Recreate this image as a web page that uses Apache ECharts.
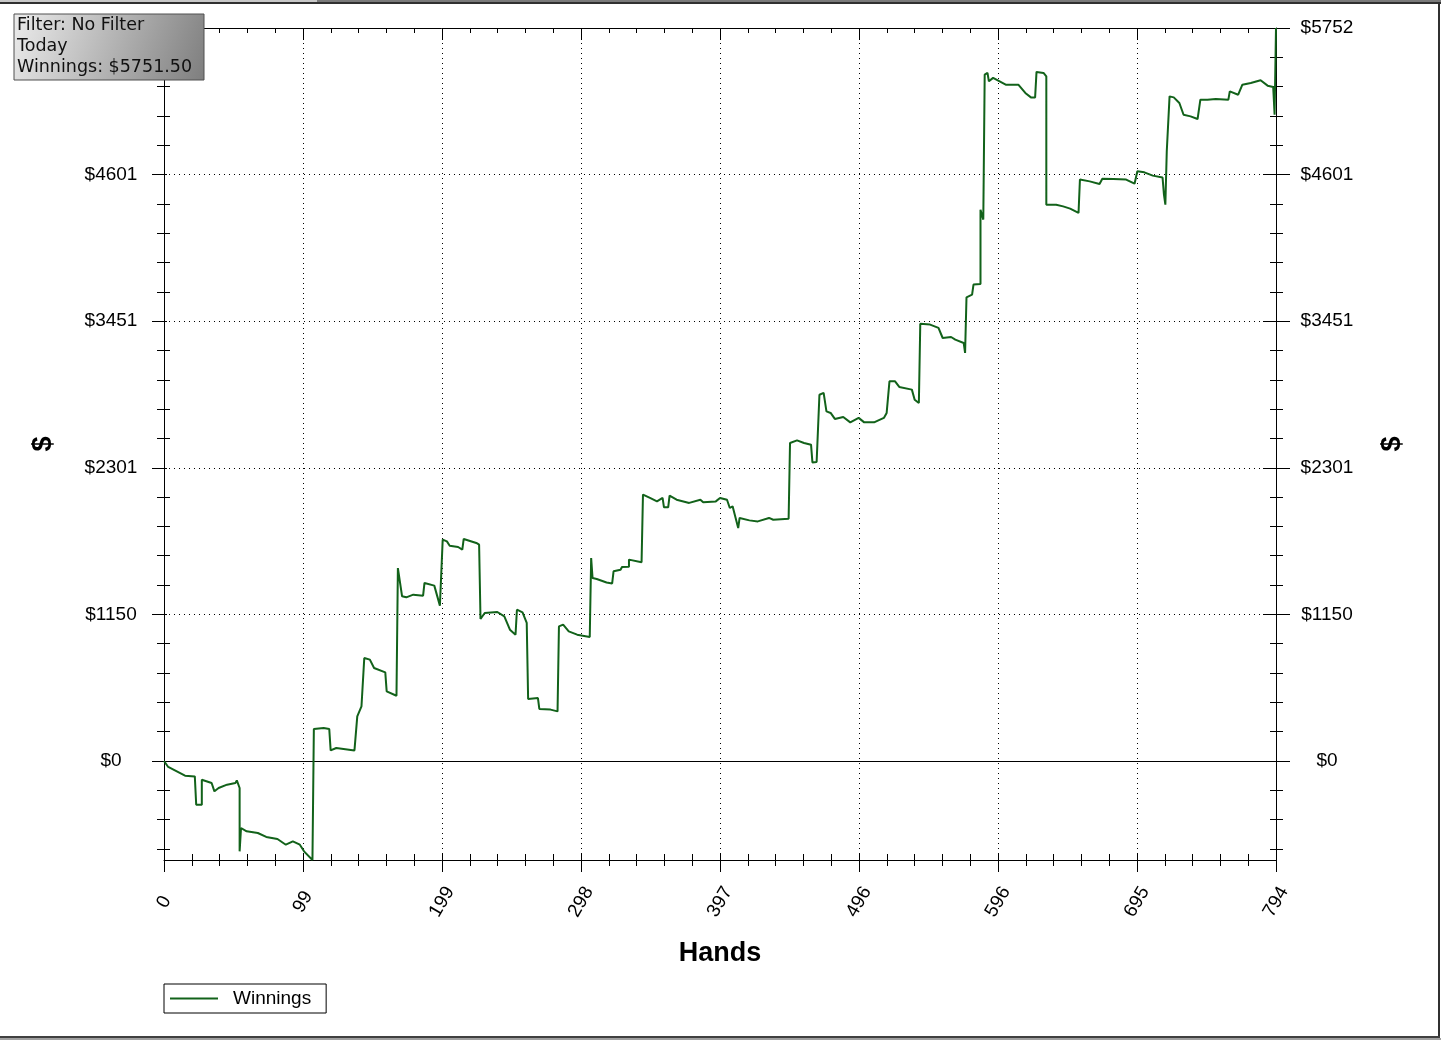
<!DOCTYPE html>
<html><head><meta charset="utf-8">
<script src="https://cdn.jsdelivr.net/npm/echarts@6/dist/echarts.min.js"></script>
<style>html,body{margin:0;padding:0;background:#fff}#c{width:1441px;height:1040px}</style>
</head><body><div id="c"></div>
<script>
const hands = [0,3,15,22,23,27,27,34,36,39,45,51,52,54,54,55,59,67,73,81,87,92,97,100,106,
107,114,118,119,123,136,138,141,143,147,150,158,159,166,167,170,173,178,185,186,193,197,199,202,204,210,213,214,223,225,
226,229,238,243,247,251,252,256,259,260,267,268,276,281,282,285,289,295,304,305,306,309,316,320,321,326,327,332,332,341,
342,347,352,356,357,360,361,366,375,383,385,394,397,402,404,406,410,411,418,424,432,435,446,447,452,457,462,463,466,468,
471,473,476,479,485,490,496,500,507,514,516,518,522,525,534,536,539,540,547,553,556,562,565,571,572,573,573,577,578,583,
583,585,586,588,589,592,601,610,615,619,622,623,628,630,630,637,642,647,653,654,661,668,670,678,687,693,695,700,706,713,
714,715,716,718,721,725,728,733,738,740,745,751,760,761,767,770,776,783,788,792,793,794];
const winnings = [0,-47,-115,-121,-343,-343,-147,-173,-238,-212,-186,-173,-152,-212,-709,-526,-552,-565,-596,-612,-657,-631,-657,-709,-777,
251,259,251,83,102,83,350,428,808,795,730,695,546,512,1514,1292,1284,1305,1297,1397,1376,1219,1737,1723,1689,1679,1658,1742,1711,1697,
1114,1161,1169,1135,1030,991,1187,1166,1083,486,494,408,403,389,1056,1070,1017,991,973,1593,1436,1428,1401,1393,1488,1501,1522,1525,1580,1559,
2090,2064,2037,2064,1990,1990,2082,2050,2025,2050,2030,2037,2064,2050,1985,1998,1828,1907,1888,1880,1907,1893,1900,2495,2516,2495,2482,2343,2346,2874,
2888,2743,2731,2684,2699,2657,2692,2657,2657,2692,2731,2979,2979,2935,2914,2835,2809,3431,3424,3398,3319,3327,3306,3280,3202,3202,3638,3659,3738,3743,
4326,4248,5386,5399,5333,5360,5307,5307,5242,5207,5207,5407,5399,5372,4365,4365,4352,4334,4300,4562,4548,4528,4569,4567,4562,4530,4627,4619,4593,4578,
4444,4365,4783,5215,5207,5163,5071,5058,5037,5189,5189,5195,5189,5254,5228,5307,5320,5341,5299,5289,5071,5751.5];
const xTickLabels = ['0','99','199','298','397','496','596','695','794'];
const yMajorValues = [0,1150.3,2300.6,3450.9,4601.2,5751.5];
const yTickLabels = ['$0','$1150','$2301','$3451','$4601','$5752'];
const infoLines = ['Filter: No Filter','Today','Winnings: $5751.50'];
const seriesName = 'Winnings';
const xName = 'Hands';
const yName = '$';
const Y_MIN = -777, Y_MAX = 5751.5, X_MAX = 794, X_INTERVAL = 99.25;

const yStep = (yMajorValues[1] - yMajorValues[0]) / 5;
const yMinorValues = [];
for (let k = -3; k <= 24; k++) { if (k % 5 !== 0) yMinorValues.push(+(k * yStep).toFixed(3)); }

const FONT = '"Liberation Sans", Arial, sans-serif';
const BLACK = '#000';
const GREEN = '#12621a';

function yLabelFmt(v) {
  const i = yMajorValues.findIndex(m => Math.abs(m - v) < 1);
  return i >= 0 ? yTickLabels[i] : '';
}
function xLabelFmt(v) {
  const i = Math.round(v / X_INTERVAL);
  return xTickLabels[i] !== undefined ? xTickLabels[i] : '';
}

function yAx(pos, extra) {
  return Object.assign({
    type: 'value', position: pos, min: Y_MIN, max: Y_MAX,
    splitLine: { show: false }, axisLine: { show: false, onZero: false },
    axisLabel: { show: false }, axisTick: { show: false }
  }, extra);
}
function yMain(pos, margin, gap) {
  return yAx(pos, {
    axisLine: { show: true, onZero: false, lineStyle: { color: BLACK, width: 1 } },
    axisTick: { show: true, customValues: yMajorValues, length: pos === 'left' ? 12 : 14, lineStyle: { color: BLACK } },
    axisLabel: { show: true, customValues: yMajorValues, formatter: yLabelFmt, margin: margin, align: 'center', verticalAlign: 'middle',
      fontSize: 19, color: BLACK, fontFamily: FONT },
    name: yName, nameLocation: 'middle', nameGap: gap, nameRotate: 90,
    nameTextStyle: { fontSize: 27, fontWeight: 'bold', color: BLACK, fontFamily: FONT, align: 'center', verticalAlign: 'middle' }
  });
}
function yTicks(pos, values, len, inside) {
  return yAx(pos, { axisTick: { show: true, inside: inside, customValues: values, length: len, lineStyle: { color: BLACK } } });
}

function xAx(pos, extra) {
  return Object.assign({
    type: 'value', position: pos, min: 0, max: X_MAX, interval: X_INTERVAL,
    splitLine: { show: false }, axisLine: { show: false, onZero: false }, axisLabel: { show: false },
    axisTick: { show: false }, minorTick: { show: false }
  }, extra);
}

const xAxes = [
  xAx('bottom', {
    axisLine: { show: true, onZero: false, lineStyle: { color: BLACK, width: 1 } },
    axisTick: { show: true, length: 12, lineStyle: { color: BLACK } },
    minorTick: { show: true, splitNumber: 5, length: 6, lineStyle: { color: BLACK } },
    splitLine: { show: true, lineStyle: { color: BLACK, width: 1, type: [1, 4] } },
    axisLabel: { show: true, formatter: xLabelFmt, rotate: 60, align: 'center', verticalAlign: 'middle', margin: 42,
      fontSize: 19, color: BLACK, fontFamily: FONT },
    name: xName, nameLocation: 'middle', nameGap: 94,
    nameTextStyle: { fontSize: 27, fontWeight: 'bold', color: BLACK, fontFamily: FONT, verticalAlign: 'middle' }
  }),
  xAx('bottom', {
    axisLine: { show: false, onZero: false },
    axisTick: { show: true, inside: true, length: 6, lineStyle: { color: BLACK } },
    minorTick: { show: true, splitNumber: 5, length: 6, lineStyle: { color: BLACK } }
  }),
  xAx('top', {
    axisLine: { show: true, onZero: false, lineStyle: { color: BLACK, width: 1 } },
    axisTick: { show: true, inside: true, length: 12, lineStyle: { color: BLACK } },
    minorTick: { show: true, splitNumber: 5, length: 5, lineStyle: { color: BLACK } }
  })
];

const yAxes = [
  yMain('left', 53, 120),
  yTicks('left', yMinorValues, 7, false),
  yTicks('left', yMinorValues, 6, true),
  yTicks('left', yMajorValues, 3, true),
  yMain('right', 51, 117),
  yTicks('right', yMajorValues, 13, true),
  yTicks('right', yMinorValues, 7, false),
  yTicks('right', yMinorValues, 6, true)
];

const gridLines = yMajorValues.slice(1, 5).map(v => ({ yAxis: v, lineStyle: { color: BLACK, width: 1, type: [1, 4] } }));
gridLines.push({ yAxis: 0, lineStyle: { color: BLACK, width: 1, type: 'solid' } });

const INFO_FONT = '17.5px "DejaVu Sans", Verdana, sans-serif';
const chart = echarts.init(document.getElementById('c'), null, { renderer: 'canvas' });
chart.setOption({
  animation: false,
  backgroundColor: '#fff',
  textStyle: { fontFamily: FONT },
  grid: { left: 164, right: 165, top: 28, bottom: 180, containLabel: false, outerBoundsMode: 'none' },
  xAxis: xAxes,
  yAxis: yAxes,
  legend: {
    show: true, data: [{ name: seriesName, icon: 'rect' }], left: 164, top: 984, orient: 'horizontal', selectedMode: false,
    borderColor: BLACK, borderWidth: 1, padding: [5, 15, 5, 6],
    itemWidth: 48, itemHeight: 2, itemGap: 0,
    itemStyle: { color: GREEN, borderWidth: 0 },
    textStyle: { fontSize: 19, color: BLACK, fontFamily: FONT, padding: [0, 0, 0, 10] }
  },
  series: [{
    name: seriesName, type: 'line', xAxisIndex: 0, yAxisIndex: 0,
    data: hands.map((h, i) => [h, winnings[i]]),
    symbol: 'none', showSymbol: false, smooth: false,
    lineStyle: { color: GREEN, width: 2 }, itemStyle: { color: GREEN },
    z: 5,
    markLine: {
      silent: true, symbol: ['none', 'none'], label: { show: false }, animation: false,
      emphasis: { disabled: true }, z: 1,
      data: gridLines
    }
  }],
  graphic: [
    { type: 'rect', z: 100, shape: { x: 0, y: 0, width: 317, height: 2 }, style: { fill: '#c8c8c8' }, silent: true },
    { type: 'rect', z: 100, shape: { x: 317, y: 0, width: 1124, height: 2 }, style: { fill: '#7a7a7a' }, silent: true },
    { type: 'rect', z: 100, shape: { x: 0, y: 2, width: 1441, height: 2 }, style: { fill: '#303030' }, silent: true },
    { type: 'rect', z: 100, shape: { x: 1438, y: 2, width: 2, height: 1037 }, style: { fill: '#303030' }, silent: true },
    { type: 'rect', z: 100, shape: { x: 0, y: 1036, width: 1440, height: 2 }, style: { fill: '#404040' }, silent: true },
    { type: 'rect', z: 100, shape: { x: 0, y: 1038, width: 1441, height: 2 }, style: { fill: '#a0a0a0' }, silent: true },
    { type: 'rect', z: 100, silent: true, shape: { x: 14, y: 14, width: 190, height: 66 },
      style: { fill: new echarts.graphic.LinearGradient(0, 0, 1, 1, [
        { offset: 0, color: '#ececec' }, { offset: 1, color: '#7e7e7e' }]), stroke: '#505050', lineWidth: 1 } },
    { type: 'text', z: 101, silent: true, x: 17, y: 25, style: { text: infoLines[0], fill: '#111', font: INFO_FONT, verticalAlign: 'middle' } },
    { type: 'text', z: 101, silent: true, x: 17, y: 46, style: { text: infoLines[1], fill: '#111', font: INFO_FONT, verticalAlign: 'middle' } },
    { type: 'text', z: 101, silent: true, x: 17, y: 67, style: { text: infoLines[2], fill: '#111', font: INFO_FONT, verticalAlign: 'middle' } }
  ]
});
</script></body></html>
